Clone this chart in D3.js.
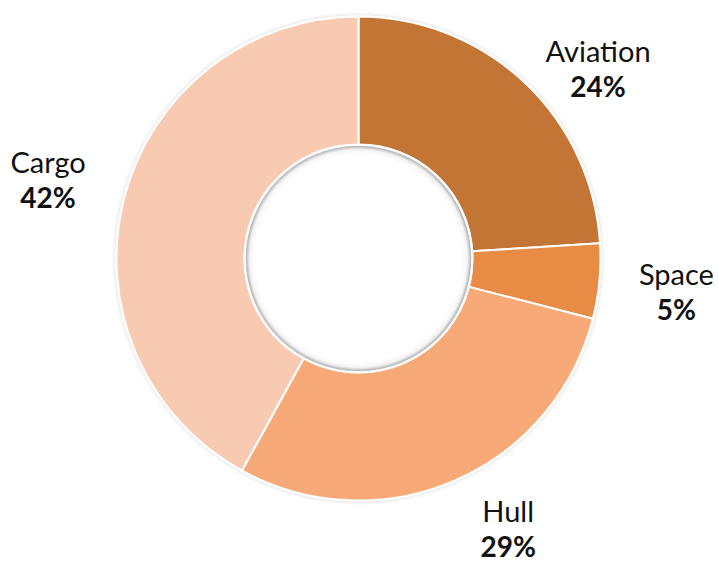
<!DOCTYPE html>
<html>
<head>
<meta charset="utf-8">
<script src="https://cdn.jsdelivr.net/npm/d3@7"></script>
<style>
  html, body { margin: 0; padding: 0; background: #fff; }
  svg { display: block; }
  text { font-family: Lato, "Open Sans", sans-serif; fill: #111; }
</style>
</head>
<body>
<svg id="chart" width="718" height="563"></svg>
<script>
// Share of premiums by line of business
const categories = ["Aviation", "Space", "Hull", "Cargo"];
const shares = [24, 5, 29, 42];
const colors = ["#C37534", "#E88C44", "#F7AA78", "#F8CAB1"];

const width = 718, height = 563;
const cx = 358.5, cy = 258.5;
const outerR = 242, innerR = 114;
// label placement: angular shift (degrees) from the slice middle and distance from centre
const labelPlace = {
  Aviation: { angle: 7.4, r: 310 },
  Space:    { angle: -0.6, r: 319 },
  Hull:     { angle: -6.2, r: 303 },
  Cargo:    { angle: 1.0, r: 322 }
};

const svg = d3.select("#chart");
const defs = svg.append("defs");

// soft outer shadow around the ring
const sh = defs.append("filter").attr("id", "ringShadow")
  .attr("x", "-10%").attr("y", "-10%").attr("width", "120%").attr("height", "120%");
sh.append("feDropShadow").attr("dx", 0).attr("dy", 0).attr("stdDeviation", 2)
  .attr("flood-color", "#000").attr("flood-opacity", 0.18);

// inset shading at the rim of the hole
const hole = defs.append("radialGradient").attr("id", "holeShade")
  .attr("cx", "50%").attr("cy", "50%").attr("r", "50%");
hole.append("stop").attr("offset", "0.9").attr("stop-color", "#fff").attr("stop-opacity", 0);
hole.append("stop").attr("offset", "0.965").attr("stop-color", "#000").attr("stop-opacity", 0.05);
hole.append("stop").attr("offset", "0.99").attr("stop-color", "#000").attr("stop-opacity", 0.22);
hole.append("stop").attr("offset", "1").attr("stop-color", "#000").attr("stop-opacity", 0.1);

const data = categories.map((c, i) => ({ category: c, value: shares[i], color: colors[i] }));

const pie = d3.pie().value(d => d.value).sort(null);
const arcs = pie(data);
const arc = d3.arc().innerRadius(innerR).outerRadius(outerR);

const g = svg.append("g").attr("transform", `translate(${cx},${cy})`);

g.append("g").attr("filter", "url(#ringShadow)")
  .selectAll("path")
  .data(arcs)
  .join("path")
  .attr("d", arc)
  .attr("fill", d => d.data.color)
  .attr("stroke", "#fff")
  .attr("stroke-width", 2)
  .attr("stroke-linejoin", "round");

// hole rim
g.append("circle").attr("r", innerR - 1).attr("fill", "url(#holeShade)");
g.append("circle").attr("r", innerR).attr("fill", "none")
  .attr("stroke", "#fff").attr("stroke-width", 1.5);

// category labels with percentages
const labels = g.append("g").selectAll("g")
  .data(arcs)
  .join("g")
  .attr("transform", d => {
    const p = labelPlace[d.data.category];
    const a = (d.startAngle + d.endAngle) / 2 + p.angle * Math.PI / 180;
    return `translate(${Math.sin(a) * p.r},${-Math.cos(a) * p.r})`;
  });

labels.append("text")
  .attr("text-anchor", "middle")
  .attr("y", 0)
  .attr("font-size", 29)
  .text(d => d.data.category);

labels.append("text")
  .attr("text-anchor", "middle")
  .attr("y", 35)
  .attr("font-size", 28)
  .attr("font-weight", "bold")
  .text(d => d.data.value + "%");
</script>
</body>
</html>
